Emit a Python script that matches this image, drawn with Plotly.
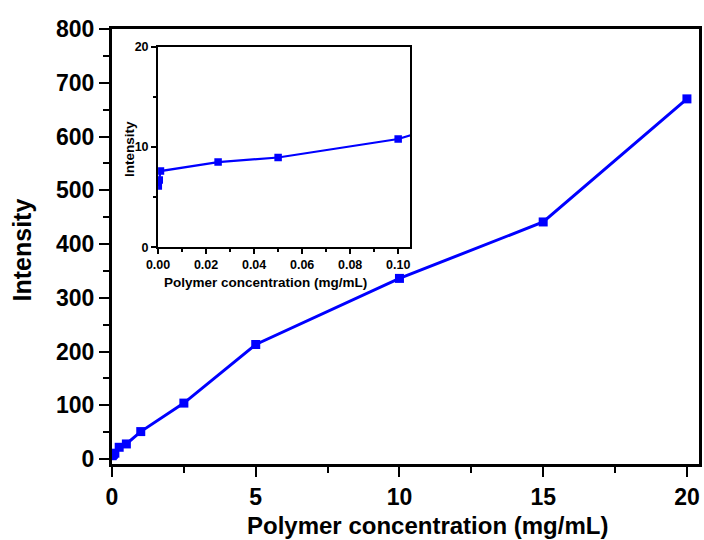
import plotly.graph_objects as go

conc = [0.0001, 0.0005, 0.001, 0.025, 0.05, 0.1, 0.25, 0.5, 1.0, 2.5, 5.0, 10.0, 15.0, 20.0]
intensity = [6.1, 6.7, 7.6, 8.5, 8.95, 10.8, 21.8, 28.0, 51.0, 104.0, 213.0, 336.0, 441.0, 670.0]

x_title = "Polymer concentration (mg/mL)"
y_title = "Intensity"

W, H = 704, 540
L, R, T, B = 112, 2, 29, 76
pw, ph = W - L - R, H - T - B

def px_x(p):
    return (p - L) / pw

def px_y(p):
    return (H - B - p) / ph

FONT = "Liberation Sans, Arial, sans-serif"
BLUE = "#0000FF"

fig = go.Figure()
fig.add_trace(go.Scatter(x=conc, y=intensity, mode="lines+markers",
                         line=dict(color=BLUE, width=3),
                         marker=dict(symbol="square", size=9, color=BLUE),
                         xaxis="x", yaxis="y", showlegend=False))
fig.add_trace(go.Scatter(x=conc, y=intensity, mode="lines+markers",
                         line=dict(color=BLUE, width=2.2),
                         marker=dict(symbol="square", size=7.5, color=BLUE),
                         xaxis="x2", yaxis="y2", showlegend=False))

axis_common = dict(showgrid=False, zeroline=False, showline=True, linecolor="black",
                   mirror=True, ticks="outside", tickcolor="black")

fig.update_layout(
    width=W, height=H,
    margin=dict(l=L, r=R, t=T, b=B),
    paper_bgcolor="white", plot_bgcolor="white",
    font=dict(family=FONT, color="black"),
    xaxis=dict(**axis_common, range=[0, 20.42], tickmode="array",
               tickvals=[0, 5, 10, 15, 20], linewidth=3, ticklen=10, tickwidth=2,
               minor=dict(tickvals=[2.5, 7.5, 12.5, 17.5], ticks="outside", ticklen=6,
                          tickwidth=2, tickcolor="black"),
               tickfont=dict(size=23, weight="bold", family=FONT)),
    yaxis=dict(**axis_common, range=[-9.3, 800], tickmode="array",
               tickvals=[0, 100, 200, 300, 400, 500, 600, 700, 800], linewidth=3,
               ticklen=10, tickwidth=2,
               minor=dict(tickvals=[50, 150, 250, 350, 450, 550, 650, 750], ticks="outside",
                          ticklen=6, tickwidth=2, tickcolor="black"),
               tickfont=dict(size=23, weight="bold", family=FONT)),
    xaxis2=dict(**axis_common, domain=[px_x(158.3), px_x(411.7)], anchor="y2",
                range=[0, 0.105], tickmode="array",
                tickvals=[0, 0.02, 0.04, 0.06, 0.08, 0.10], tickformat=".2f",
                linewidth=2, ticklen=5, tickwidth=1.5,
                minor=dict(tickvals=[0.01, 0.03, 0.05, 0.07, 0.09], ticks="outside",
                           ticklen=3, tickwidth=1.5, tickcolor="black"),
                tickfont=dict(size=12.5, weight="bold", family=FONT)),
    yaxis2=dict(**axis_common, domain=[px_y(247.3), px_y(46.7)], anchor="x2",
                range=[0, 20], tickmode="array", tickvals=[0, 10, 20],
                linewidth=2, ticklen=5, tickwidth=1.5,
                minor=dict(tickvals=[5, 15], ticks="outside", ticklen=3,
                           tickwidth=1.5, tickcolor="black"),
                tickfont=dict(size=12.5, weight="bold", family=FONT)),
    annotations=[
        dict(text=x_title, xref="paper", yref="paper", x=px_x(429), y=px_y(525),
             xanchor="center", yanchor="middle", showarrow=False,
             font=dict(size=24, weight="bold", family=FONT)),
        dict(text=y_title, xref="paper", yref="paper", x=px_x(22), y=px_y(250),
             xanchor="center", yanchor="middle", showarrow=False, textangle=-90,
             font=dict(size=25, weight="bold", family=FONT)),
        dict(text=x_title, xref="paper", yref="paper", x=px_x(266), y=px_y(282),
             xanchor="center", yanchor="middle", showarrow=False,
             font=dict(size=13.5, weight="bold", family=FONT)),
        dict(text=y_title, xref="paper", yref="paper", x=px_x(129), y=px_y(149),
             xanchor="center", yanchor="middle", showarrow=False, textangle=-90,
             font=dict(size=13.5, weight="bold", family=FONT)),
    ],
)

fig.write_html("out.html", config={"displayModeBar": False},
               post_script="document.body.style.margin='0';")
